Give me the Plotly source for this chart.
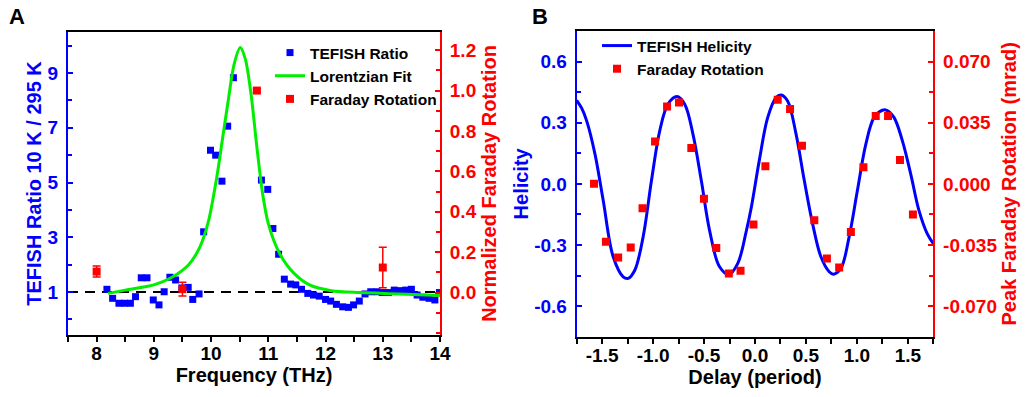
import plotly.graph_objects as go

# ---------------- Panel A data ----------------
freq_tefish = [8.18, 8.28, 8.39, 8.49, 8.59, 8.68, 8.78, 8.88, 8.99, 9.09, 9.18, 9.28, 9.38, 9.49,
               9.60, 9.68, 9.79, 9.87, 9.99, 10.08, 10.19, 10.29, 10.39, 10.88, 10.99, 11.08,
               11.18, 11.28, 11.39, 11.48, 11.58, 11.69, 11.79, 11.89, 12.00, 12.09, 12.19,
               12.30, 12.40, 12.49, 12.59, 12.69, 12.79, 12.90, 12.99, 13.10, 13.20, 13.30,
               13.40, 13.50, 13.60, 13.70, 13.81, 13.91, 13.99]
ratio_tefish = [1.10, 0.77, 0.59, 0.59, 0.59, 0.83, 1.52, 1.52, 0.71, 0.53, 1.01, 1.54, 1.44, 1.15,
                1.17, 0.73, 0.93, 3.20, 6.18, 6.00, 5.05, 7.06, 8.83, 5.09, 4.75, 3.32,
                2.38, 1.47, 1.29, 1.26, 1.10, 0.95, 0.89, 0.85, 0.73, 0.67, 0.55,
                0.46, 0.44, 0.53, 0.67, 0.93, 1.01, 1.01, 0.98, 0.98, 1.07, 1.05,
                1.07, 1.10, 0.89, 0.81, 0.77, 0.71, 0.98]

fit_freq = [8.2, 8.5, 9.0, 9.3, 9.6, 9.8, 9.95, 10.1, 10.2, 10.3, 10.4, 10.51, 10.6, 10.7,
            10.8, 10.9, 11.0, 11.2, 11.45, 11.72, 12.1, 12.6, 13.3, 14.0]
fit_ratio = [0.95, 1.07, 1.26, 1.52, 1.98, 2.62, 3.55, 5.2, 6.6, 8.0, 9.3, 9.93, 9.5, 8.2,
             6.3, 4.6, 3.5, 2.4, 1.68, 1.26, 1.05, 0.98, 0.93, 0.87]

faraday_freq = [8.0, 9.5, 10.8, 13.0]
faraday_norm = [0.104, 0.017, 1.0, 0.124]
faraday_err = [0.027, 0.034, 0.008, 0.10]

baseline_x = [7.5, 14.0]
baseline_y = [1.0, 1.0]

a_xticks = [8, 9, 10, 11, 12, 13, 14]
a_yticks = [1, 3, 5, 7, 9]
a_y2ticks = [0.0, 0.2, 0.4, 0.6, 0.8, 1.0, 1.2]
a_y2labels = ["0.0", "0.2", "0.4", "0.6", "0.8", "1.0", "1.2"]

# ---------------- Panel B data ----------------
helicity_delay = [-1.75, -1.70, -1.652, -1.571, -1.49, -1.392, -1.294, -1.245, -1.18, -1.098, -1.016,
                  -0.935, -0.854, -0.766, -0.69, -0.609, -0.527, -0.446, -0.348, -0.257,
                  -0.169, -0.087, -0.038, 0.044, 0.125, 0.207, 0.256, 0.32, 0.403, 0.484,
                  0.565, 0.647, 0.728, 0.771, 0.843, 0.924, 1.005, 1.088, 1.169, 1.25,
                  1.293, 1.364, 1.446, 1.528, 1.609, 1.69, 1.75]
helicity = [0.41, 0.37, 0.309, 0.147, -0.081, -0.358, -0.456, -0.464, -0.424, -0.26, 0.016,
            0.26, 0.391, 0.428, 0.391, 0.244, 0.016, -0.228, -0.407, -0.445,
            -0.39, -0.235, -0.12, 0.12, 0.326, 0.424, 0.436, 0.407, 0.244, 0.016,
            -0.195, -0.358, -0.431, -0.443, -0.415, -0.26, -0.033, 0.195, 0.326, 0.361,
            0.361, 0.326, 0.212, 0.049, -0.13, -0.244, -0.293]

fr_delay = [-1.58, -1.463, -1.343, -1.22, -1.104, -0.981, -0.863, -0.746, -0.625, -0.501,
            -0.38, -0.257, -0.142, -0.015, 0.102, 0.223, 0.344, 0.461, 0.582, 0.706,
            0.826, 0.941, 1.064, 1.185, 1.306, 1.423, 1.55]
fr_peak = [0.000, -0.0331, -0.0422, -0.0365, -0.0139, 0.0243, 0.0443, 0.0466, 0.0205, -0.0086,
           -0.0367, -0.0513, -0.0498, -0.0232, 0.0101, 0.0481, 0.0428, 0.0218, -0.0209, -0.0428,
           -0.0479, -0.0275, 0.0095, 0.0389, 0.0389, 0.0137, -0.0175]

b_xticks = [-1.5, -1.0, -0.5, 0.0, 0.5, 1.0, 1.5]
b_xlabels = ["-1.5", "-1.0", "-0.5", "0.0", "0.5", "1.0", "1.5"]
b_yticks = [0.6, 0.3, 0.0, -0.3, -0.6]
b_ylabels = ["0.6", "0.3", "0.0", "-0.3", "-0.6"]
b_y2ticks = [0.070, 0.035, 0.0, -0.035, -0.070]
b_y2labels = ["0.070", "0.035", "0.000", "-0.035", "-0.070"]

BLUE = "#0000FF"
RED = "#FF0000"
GREEN = "#00EE00"
FONT = "Arial, 'Liberation Sans', sans-serif"

fig = go.Figure()

# Panel A traces
fig.add_trace(go.Scatter(x=baseline_x, y=baseline_y, mode="lines", xaxis="x", yaxis="y",
                         line=dict(color="black", width=2, dash="10px,7px"), showlegend=False,
                         hoverinfo="skip"))
fig.add_trace(go.Scatter(x=freq_tefish, y=ratio_tefish, mode="markers", name="TEFISH Ratio",
                         xaxis="x", yaxis="y", legend="legend",
                         marker=dict(symbol="square", size=7, color=BLUE)))
fig.add_trace(go.Scatter(x=fit_freq, y=fit_ratio, mode="lines", name="Lorentzian Fit",
                         xaxis="x", yaxis="y", legend="legend",
                         line=dict(color=GREEN, width=3, shape="spline", smoothing=0.8)))
fig.add_trace(go.Scatter(x=faraday_freq, y=faraday_norm, mode="markers", name="Faraday Rotation",
                         xaxis="x", yaxis="y2", legend="legend",
                         marker=dict(symbol="square", size=8, color=RED),
                         error_y=dict(type="data", array=faraday_err, color=RED, thickness=1.5, width=4)))

# Panel B traces
fig.add_trace(go.Scatter(x=helicity_delay, y=helicity, mode="lines", name="TEFISH Helicity",
                         xaxis="x3", yaxis="y3", legend="legend2",
                         line=dict(color=BLUE, width=3, shape="spline", smoothing=1.0)))
fig.add_trace(go.Scatter(x=fr_delay, y=fr_peak, mode="markers", name="Faraday Rotation",
                         xaxis="x3", yaxis="y4", legend="legend2",
                         marker=dict(symbol="square", size=8, color=RED)))

tickfont = lambda c: dict(family=FONT, size=19, color=c, weight="bold")
titlefont = lambda c: dict(family=FONT, size=20, color=c, weight="bold")

A_X = [68 / 1026, 440 / 1026]
A_Y = [62 / 397, 365 / 397]
B_X = [576.7 / 1026, 933.3 / 1026]
B_Y = [60.3 / 397, 366 / 397]

common = dict(showgrid=False, zeroline=False, automargin=False, showline=True, linewidth=2)

fig.update_layout(
    width=1026, height=397,
    margin=dict(l=0, r=0, t=0, b=0),
    paper_bgcolor="white", plot_bgcolor="white",
    font=dict(family=FONT),
    # ----- Panel A axes -----
    xaxis=dict(domain=A_X, range=[7.5, 14], anchor="y", linecolor="black", mirror=True,
               tickmode="array", tickvals=a_xticks, ticks="outside", ticklen=5, tickwidth=2,
               tickcolor="black", tickfont=tickfont("black"), ticklabelstandoff=-5,
               minor=dict(tickmode="linear", tick0=7.5, dtick=0.5, ticks="outside", ticklen=5,
                          tickwidth=2, tickcolor="black"),
               title=dict(text="Frequency (THz)", font=titlefont("black"), standoff=4), **common),
    xaxis2=dict(overlaying="x", side="top", anchor="y", range=[7.5, 14], linecolor="black",
                tickmode="array", tickvals=a_xticks, ticks="inside", ticklen=5, tickwidth=2,
                tickcolor="black", showticklabels=False,
                minor=dict(tickmode="linear", tick0=7.5, dtick=0.5, ticks="inside", ticklen=5,
                           tickwidth=2, tickcolor="black"), **common),
    yaxis=dict(domain=A_Y, range=[-0.57, 10.5], anchor="x", linecolor=BLUE,
               tickmode="array", tickvals=a_yticks, ticks="inside", ticklen=5, tickwidth=2,
               tickcolor=BLUE, tickfont=tickfont(BLUE), ticklabelstandoff=4,
               minor=dict(tickmode="linear", tick0=0, dtick=1, ticks="inside", ticklen=4,
                          tickwidth=2, tickcolor=BLUE),
               title=dict(text="TEFISH Ratio 10 K / 295 K", font=titlefont(BLUE), standoff=1),
               **common),
    yaxis2=dict(overlaying="y", side="right", anchor="x", range=[-0.21, 1.29], linecolor=RED,
                tickmode="array", tickvals=a_y2ticks, ticktext=a_y2labels, ticks="inside",
                ticklen=5, tickwidth=2, tickcolor=RED, tickfont=tickfont(RED), ticklabelstandoff=4,
                minor=dict(tickmode="linear", tick0=0, dtick=0.1, ticks="inside", ticklen=4,
                           tickwidth=2, tickcolor=RED),
                title=dict(text="Normalized Faraday Rotation", font=titlefont(RED), standoff=6),
                **common),
    # ----- Panel B axes -----
    xaxis3=dict(domain=B_X, range=[-1.75, 1.75], anchor="y3", linecolor="black", mirror=True,
                tickmode="array", tickvals=b_xticks, ticktext=b_xlabels, ticks="outside",
                ticklen=5, tickwidth=2, tickcolor="black", tickfont=tickfont("black"),
                ticklabelstandoff=-5,
                minor=dict(tickmode="linear", tick0=-1.75, dtick=0.25, ticks="outside", ticklen=5,
                           tickwidth=2, tickcolor="black"),
                title=dict(text="Delay (period)", font=titlefont("black"), standoff=5), **common),
    xaxis4=dict(overlaying="x3", side="top", anchor="y3", range=[-1.75, 1.75], linecolor="black",
                tickmode="array", tickvals=b_xticks, ticks="inside", ticklen=5, tickwidth=2,
                tickcolor="black", showticklabels=False,
                minor=dict(tickmode="linear", tick0=-1.75, dtick=0.25, ticks="inside", ticklen=5,
                           tickwidth=2, tickcolor="black"), **common),
    yaxis3=dict(domain=B_Y, range=[-0.75, 0.75], anchor="x3", linecolor=BLUE,
                tickmode="array", tickvals=b_yticks, ticktext=b_ylabels, ticks="inside",
                ticklen=5, tickwidth=2, tickcolor=BLUE, tickfont=tickfont(BLUE), ticklabelstandoff=4,
                minor=dict(tickmode="linear", tick0=-0.75, dtick=0.15, ticks="inside", ticklen=4,
                           tickwidth=2, tickcolor=BLUE),
                title=dict(text="Helicity", font=titlefont(BLUE), standoff=0), **common),
    yaxis4=dict(overlaying="y3", side="right", anchor="x3", range=[-0.0875, 0.0875], linecolor=RED,
                tickmode="array", tickvals=b_y2ticks, ticktext=b_y2labels, ticks="inside",
                ticklen=5, tickwidth=2, tickcolor=RED, tickfont=tickfont(RED), ticklabelstandoff=4,
                minor=dict(tickmode="linear", tick0=-0.0875, dtick=0.0175, ticks="inside", ticklen=4,
                           tickwidth=2, tickcolor=RED),
                title=dict(text="Peak Faraday Rotation (mrad)", font=titlefont(RED), standoff=6),
                **common),
    legend=dict(x=270 / 1026, y=1 - 36 / 397, xanchor="left", yanchor="top",
                bgcolor="rgba(0,0,0,0)", font=dict(family=FONT, size=15.5, color="black", weight="bold"),
                tracegroupgap=0),
    legend2=dict(x=597 / 1026, y=1 - 29 / 397, xanchor="left", yanchor="top",
                 bgcolor="rgba(0,0,0,0)", font=dict(family=FONT, size=15.5, color="black", weight="bold"),
                 tracegroupgap=0),
    annotations=[
        dict(text="A", x=17 / 1026, y=1 - 16 / 397, xref="paper", yref="paper", showarrow=False,
             xanchor="center", yanchor="middle", font=dict(family=FONT, size=22, color="black", weight="bold")),
        dict(text="B", x=540 / 1026, y=1 - 16 / 397, xref="paper", yref="paper", showarrow=False,
             xanchor="center", yanchor="middle", font=dict(family=FONT, size=22, color="black", weight="bold")),
    ],
)

fig.write_html("out.html", config={"displayModeBar": False},
               post_script="document.body.style.margin='0px';")
